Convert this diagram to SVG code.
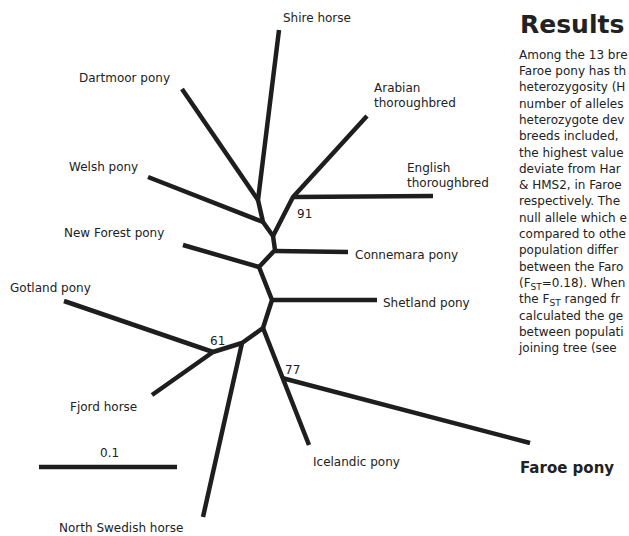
<svg xmlns="http://www.w3.org/2000/svg" width="629" height="536" viewBox="0 0 629 536">
<style>
.e{stroke:#1e1e1e;stroke-width:4.5;fill:none;stroke-linejoin:round;stroke-linecap:butt}
.l{font-family:"DejaVu Sans",sans-serif;font-size:12px;fill:#222}
.b{font-family:"DejaVu Sans",sans-serif;font-size:12px;fill:#222}
.p{font-family:"DejaVu Sans",sans-serif;font-size:12px;fill:#222}
</style>
<rect width="629" height="536" fill="#ffffff"/>
<g id="connectors">
<polyline class="e" points="279,30 258,200 263,222 273,236 275,250 259,267 272,300 263,328 242,343 213,352"/>
<line class="e" x1="182" y1="89" x2="258" y2="200"/>
<line class="e" x1="148" y1="177" x2="263" y2="222"/>
<polyline class="e" points="367,116 293,197 273,236"/>
<line class="e" x1="293" y1="197" x2="433" y2="196"/>
<line class="e" x1="275" y1="251" x2="348" y2="252"/>
<line class="e" x1="183" y1="245" x2="259" y2="267"/>
<line class="e" x1="272" y1="300" x2="377" y2="300"/>
<line class="e" x1="263" y1="328" x2="309" y2="445"/>
<line class="e" x1="282" y1="378" x2="530" y2="443"/>
<line class="e" x1="64" y1="301" x2="213" y2="352"/>
<line class="e" x1="152" y1="395" x2="213" y2="352"/>
<line class="e" x1="242" y1="343" x2="203" y2="517"/>
</g>
<g id="shire"><text class="l" x="283" y="22">Shire horse</text></g>
<g id="arabian"><text class="l" x="374" y="92">Arabian</text><text class="l" x="374" y="107">thoroughbred</text></g>
<g id="english"><text class="l" x="407" y="172">English</text><text class="l" x="407" y="187">thoroughbred</text></g>
<g id="node91"><text class="b" x="297" y="218">91</text></g>
<g id="connemara"><text class="l" x="355" y="259">Connemara pony</text></g>
<g id="shetland"><text class="l" x="383" y="307">Shetland pony</text></g>
<g id="dartmoor"><text class="l" x="79" y="82">Dartmoor pony</text></g>
<g id="welsh"><text class="l" x="69" y="171">Welsh pony</text></g>
<g id="newforest"><text class="l" x="64" y="237">New Forest pony</text></g>
<g id="gotland"><text class="l" x="10" y="292">Gotland pony</text></g>
<g id="node61"><text class="b" x="210" y="345">61</text></g>
<g id="node77"><text class="b" x="285" y="374">77</text></g>
<g id="fjord"><text class="l" x="70" y="411">Fjord horse</text></g>
<g id="icelandic"><text class="l" x="313" y="466">Icelandic pony</text></g>
<g id="northswedish"><text class="l" x="59" y="532">North Swedish horse</text></g>
<g id="faroe"><text x="520" y="473" style="font-family:'DejaVu Sans',sans-serif;font-size:15px;font-weight:bold;fill:#222">Faroe pony</text></g>
<g id="scalebar"><line class="e" x1="39" y1="467" x2="177" y2="467"/><text class="b" x="100" y="457">0.1</text></g>
<g id="results">
<text x="520" y="33" style="font-family:'DejaVu Sans',sans-serif;font-size:25px;font-weight:bold;fill:#222">Results</text>
<text class="p" x="519" y="59">Among the 13 bre</text>
<text class="p" x="519" y="75">Faroe pony has th</text>
<text class="p" x="519" y="91">heterozygosity (H</text>
<text class="p" x="519" y="108">number of alleles</text>
<text class="p" x="519" y="124">heterozygote dev</text>
<text class="p" x="519" y="140">breeds included,</text>
<text class="p" x="519" y="157">the highest value</text>
<text class="p" x="519" y="173">deviate from Har</text>
<text class="p" x="519" y="189">&amp; HMS2, in Faroe</text>
<text class="p" x="519" y="205">respectively. The</text>
<text class="p" x="519" y="222">null allele which e</text>
<text class="p" x="519" y="238">compared to othe</text>
<text class="p" x="519" y="254">population differ</text>
<text class="p" x="519" y="271">between the Faro</text>
<text class="p" x="519" y="287">(F<tspan font-size="9" dy="3">ST</tspan><tspan dy="-3">=0.18). When</tspan></text>
<text class="p" x="519" y="303">the F<tspan font-size="9" dy="3">ST</tspan><tspan dy="-3"> ranged fr</tspan></text>
<text class="p" x="519" y="320">calculated the ge</text>
<text class="p" x="519" y="336">between populati</text>
<text class="p" x="519" y="352">joining tree (see</text>
</g>
</svg>
